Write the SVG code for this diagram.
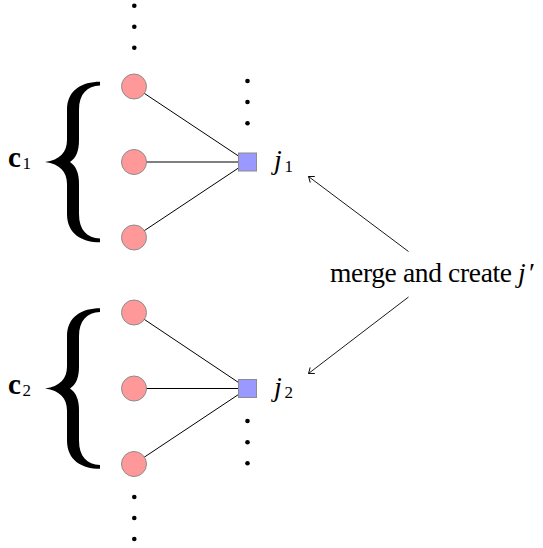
<svg xmlns="http://www.w3.org/2000/svg" width="543" height="548" viewBox="0 0 543 548">
<defs>
<style>
.var{fill:#ff9999;stroke:#8c8c8c;stroke-width:1}
.fac{fill:#9999ff;stroke:#8c8c8c;stroke-width:1}
.edge{stroke:#000;stroke-width:1;fill:none}
.arr{stroke:#000;stroke-width:0.9;fill:none;marker-end:url(#ah)}
.dot{fill:#000}
.brace{fill:#000}
text{font-family:"Liberation Serif","Times New Roman",serif;fill:#000}
.bold{font-weight:bold}
.it{font-style:italic}
</style>
<marker id="ah" markerUnits="userSpaceOnUse" markerWidth="12" markerHeight="12" viewBox="-6 -6 12 12" refX="0" refY="0" orient="auto">
<path d="M -5,-3.8 Q -1.5,-1 0,0 Q -1.5,1 -5,3.8" fill="none" stroke="#000" stroke-width="0.9"/>
</marker>
<path id="brace" d="M 100,81.7 C 82,81.7 67,90 67,110 L 67,140 C 67,152 60,160 45,162 C 60,164 67,172 67,184 L 67,214 C 67,234 82,242.3 100,242.3 L 100,238.5 C 87,238 79,230 79,214 L 79,184 C 79,173 76,166 70,162 C 76,158 79,151 79,140 L 79,110 C 79,94 87,86 100,85.5 Z"/>
</defs>
<g id="connectors">
<line class="edge" x1="134" y1="86.5" x2="247.5" y2="162"/>
<line class="edge" x1="134" y1="162" x2="247.5" y2="162"/>
<line class="edge" x1="134" y1="237.5" x2="247.5" y2="162"/>
<line class="edge" x1="134" y1="312.5" x2="247.5" y2="388.5"/>
<line class="edge" x1="134" y1="388.5" x2="247.5" y2="388.5"/>
<line class="edge" x1="134" y1="464" x2="247.5" y2="388.5"/>
<line class="arr" x1="408.5" y1="251.5" x2="308.5" y2="176.5"/>
<line class="arr" x1="408.5" y1="297" x2="308.5" y2="373.5"/>
</g>
<g id="dots">
<circle class="dot" cx="134.3" cy="5.7" r="2.3"/>
<circle class="dot" cx="134.3" cy="26.7" r="2.3"/>
<circle class="dot" cx="134.3" cy="47.7" r="2.3"/>
<circle class="dot" cx="247.5" cy="81" r="2.3"/>
<circle class="dot" cx="247.5" cy="102" r="2.3"/>
<circle class="dot" cx="247.5" cy="123.3" r="2.3"/>
<circle class="dot" cx="247.5" cy="421" r="2.3"/>
<circle class="dot" cx="247.5" cy="442.3" r="2.3"/>
<circle class="dot" cx="247.5" cy="463.3" r="2.3"/>
<circle class="dot" cx="134.3" cy="497" r="2.3"/>
<circle class="dot" cx="134.3" cy="518" r="2.3"/>
<circle class="dot" cx="134.3" cy="539" r="2.3"/>
</g>
<g id="brace1"><use href="#brace" class="brace"/></g>
<g id="brace2"><use href="#brace" class="brace" transform="translate(0,226.5)"/></g>
<g id="v1"><circle class="var" cx="134" cy="86.5" r="12.5"/></g>
<g id="v2"><circle class="var" cx="134" cy="162" r="12.5"/></g>
<g id="v3"><circle class="var" cx="134" cy="237.5" r="12.5"/></g>
<g id="v4"><circle class="var" cx="134" cy="312.5" r="12.5"/></g>
<g id="v5"><circle class="var" cx="134" cy="388.5" r="12.5"/></g>
<g id="v6"><circle class="var" cx="134" cy="464" r="12.5"/></g>
<g id="j1"><rect class="fac" x="238.5" y="153" width="18" height="18"/>
<text x="274" y="169.3" font-size="28"><tspan class="it">j</tspan><tspan x="284.5" y="171.5" font-size="17">1</tspan></text></g>
<g id="j2"><rect class="fac" x="238.5" y="379.5" width="18" height="18"/>
<text x="274" y="395.8" font-size="28"><tspan class="it">j</tspan><tspan x="284.5" y="398" font-size="17">2</tspan></text></g>
<g id="c1"><text x="8" y="167.3" font-size="29"><tspan class="bold">c</tspan><tspan x="22.5" y="169.3" font-size="17">1</tspan></text></g>
<g id="c2"><text x="8" y="393.8" font-size="29"><tspan class="bold">c</tspan><tspan x="22.5" y="395.8" font-size="17">2</tspan></text></g>
<g id="label"><text x="330" y="281.7" font-size="27.5" textLength="182" lengthAdjust="spacing">merge and create</text><text x="518" y="281.7" font-size="27.5"><tspan class="it">j</tspan><tspan x="529" font-size="28">′</tspan></text></g>
</svg>
